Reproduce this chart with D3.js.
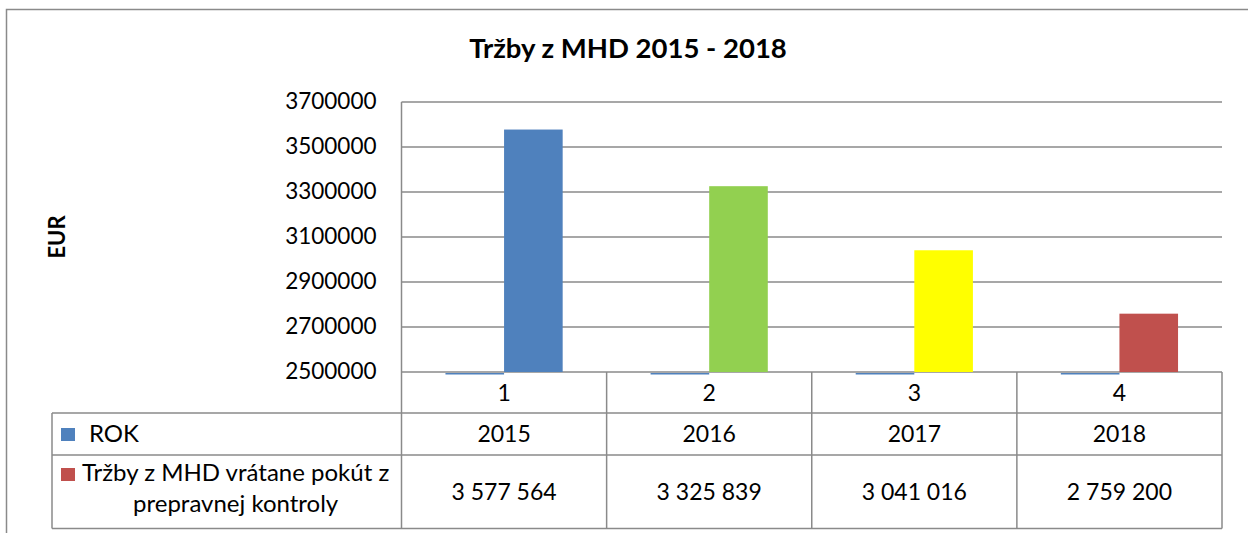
<!DOCTYPE html>
<html><head><meta charset="utf-8">
<script src="https://cdn.jsdelivr.net/npm/d3@7"></script>
<style>html,body{margin:0;padding:0;background:#fff;}svg{display:block;font-family:Lato,"Open Sans",sans-serif;}</style>
</head><body><svg id="c" width="1248" height="533"></svg>
<script>
const title = "Tržby z MHD 2015 - 2018";
const yTitle = "EUR";
const categories = ["1", "2", "3", "4"];
const seriesNames = ["ROK", "Tržby z MHD vrátane pokút z", "prepravnej kontroly"];
const rokValues = [2015, 2016, 2017, 2018];
const trzbyValues = [3577564, 3325839, 3041016, 2759200];
const trzbyLabels = ["3 577 564", "3 325 839", "3 041 016", "2 759 200"];
const yTicks = [2500000, 2700000, 2900000, 3100000, 3300000, 3500000, 3700000];
const pointColors = ["#4F81BD", "#92D050", "#FFFF00", "#C0504D"];
const rokColor = "#4F81BD";
const legendColors = ["#4F81BD", "#C0504D"];

const svg = d3.select("#c");
const L = 401.5, R = 1222, T = 102, B = 372;
const gridCol = "#8a8a8a";
const fontSize = 23;

// outer chart border
svg.append("rect").attr("x", 6.5).attr("y", 9.5).attr("width", 1300).attr("height", 600)
  .attr("fill", "none").attr("stroke", gridCol).attr("stroke-width", 1.5);

const x = d3.scaleBand().domain(categories).range([L, R]).paddingInner(0).paddingOuter(0);
const y = d3.scaleLinear().domain([yTicks[0], yTicks[yTicks.length - 1]]).range([B, T]);
const bw = x.bandwidth() / 3.5;

// gridlines
svg.append("g").selectAll("line").data(yTicks).join("line")
  .attr("x1", L).attr("x2", R).attr("y1", d => y(d)).attr("y2", d => y(d))
  .attr("stroke", gridCol).attr("stroke-width", 1.3);

// y axis labels via d3 axis
const yAxis = d3.axisLeft(y).tickValues(yTicks).tickSize(0).tickPadding(0).tickFormat(d3.format("d"));
const ga = svg.append("g").attr("transform", `translate(${L - 25},0)`).call(yAxis);
ga.select(".domain").remove();
ga.selectAll("text").attr("font-size", 22.5).attr("font-family", "Lato").attr("fill", "#000").attr("dy", "0.3em");

// bars: ROK series (below axis minimum -> sliver under axis)
svg.append("g").selectAll("rect").data(rokValues).join("rect")
  .attr("x", (d, i) => x(categories[i]) + 0.75 * bw)
  .attr("y", d => d < y.domain()[0] ? B + 1 : y(d))
  .attr("width", bw)
  .attr("height", d => d < y.domain()[0] ? 1.5 : B - y(d))
  .attr("fill", rokColor);

// bars: Tržby series
svg.append("g").selectAll("rect").data(trzbyValues).join("rect")
  .attr("x", (d, i) => x(categories[i]) + 1.75 * bw)
  .attr("y", d => y(d))
  .attr("width", bw)
  .attr("height", d => B - y(d))
  .attr("fill", (d, i) => pointColors[i]);

// plot left border
svg.append("line").attr("x1", L).attr("x2", L).attr("y1", T).attr("y2", 528.5).attr("stroke", gridCol).attr("stroke-width", 1.5);

// data table
const rows = [B, 413, 455, 528.5];
const tableLeft = 52;
const tg = svg.append("g");
[rows[1], rows[2], rows[3]].forEach(ry => {
  tg.append("line").attr("x1", tableLeft).attr("x2", R).attr("y1", ry).attr("y2", ry).attr("stroke", gridCol).attr("stroke-width", 1.5);
});
tg.append("line").attr("x1", tableLeft).attr("x2", tableLeft).attr("y1", rows[1]).attr("y2", rows[3]).attr("stroke", gridCol).attr("stroke-width", 1.5);
const vx = categories.map(c => x(c) + x.bandwidth());
tg.selectAll("line.v").data(vx).join("line").attr("class", "v")
  .attr("x1", d => d).attr("x2", d => d).attr("y1", B).attr("y2", rows[3])
  .attr("stroke", gridCol).attr("stroke-width", 1.5);

// category labels
tg.selectAll("text.cat").data(categories).join("text").attr("class", "cat")
  .attr("x", d => x(d) + x.bandwidth() / 2).attr("y", 401)
  .attr("text-anchor", "middle").attr("font-size", fontSize).text(d => d);
// ROK values
tg.selectAll("text.rok").data(rokValues).join("text").attr("class", "rok")
  .attr("x", (d, i) => x(categories[i]) + x.bandwidth() / 2).attr("y", 442)
  .attr("text-anchor", "middle").attr("font-size", fontSize).text(d => d);
// Tržby values
tg.selectAll("text.tr").data(trzbyLabels).join("text").attr("class", "tr")
  .attr("x", (d, i) => x(categories[i]) + x.bandwidth() / 2).attr("y", 500)
  .attr("text-anchor", "middle").attr("font-size", fontSize).text(d => d);

// row headers with legend keys
tg.append("rect").attr("x", 61).attr("y", 428).attr("width", 14).attr("height", 13).attr("fill", legendColors[0]);
tg.append("text").attr("x", 89).attr("y", 442).attr("font-size", 24).text(seriesNames[0]);
tg.append("rect").attr("x", 61).attr("y", 468).attr("width", 14).attr("height", 13).attr("fill", legendColors[1]);
const l1 = tg.append("text").attr("x", 82).attr("y", 481).attr("font-size", 24).text(seriesNames[1]);
const w1 = l1.node().getComputedTextLength();
tg.append("text").attr("x", 82 + w1 / 2).attr("y", 512).attr("text-anchor", "middle").attr("font-size", 24).text(seriesNames[2]);

// title
svg.append("text").attr("x", 628).attr("y", 57.5).attr("text-anchor", "middle")
  .attr("font-size", 27.5).attr("font-weight", "bold").text(title);
// y axis title
svg.append("text").attr("transform", "translate(65,237) rotate(-90)").attr("text-anchor", "middle")
  .attr("font-size", 22).attr("font-weight", "bold").text(yTitle);
</script></body></html>
